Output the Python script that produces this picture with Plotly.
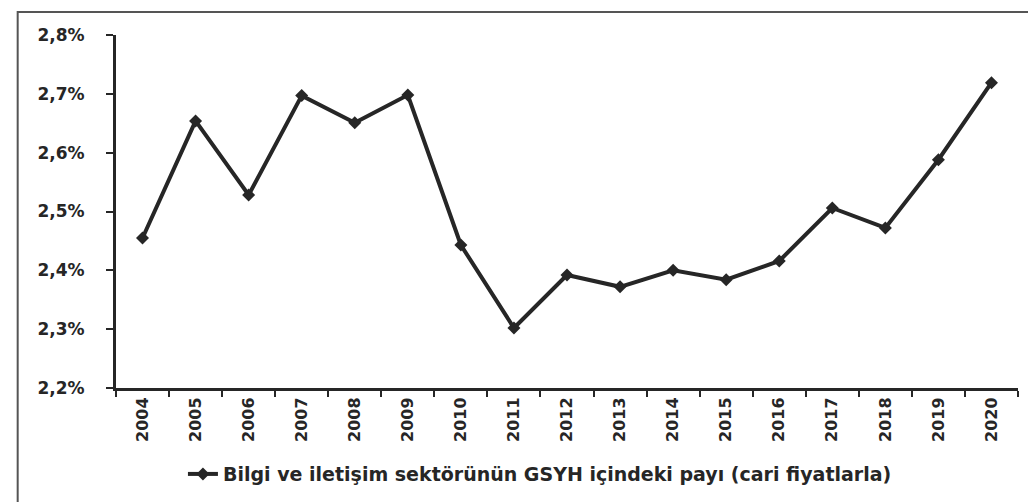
import plotly.graph_objects as go

years = [str(y) for y in range(2004, 2021)]
share = [2.455, 2.654, 2.528, 2.697, 2.651, 2.698, 2.443, 2.302, 2.392,
         2.372, 2.400, 2.384, 2.416, 2.506, 2.472, 2.588, 2.719]
series_name = "Bilgi ve iletişim sektörünün GSYH içindeki payı (cari fiyatlarla)"
y_ticks = [2.2, 2.3, 2.4, 2.5, 2.6, 2.7, 2.8]
y_tick_labels = ["2,2%", "2,3%", "2,4%", "2,5%", "2,6%", "2,7%", "2,8%"]

font_family = "DejaVu Sans"
ink = "#262626"
fig = go.Figure()
fig.add_trace(go.Scatter(
    x=years, y=share, mode="lines+markers", name=series_name,
    line=dict(color=ink, width=4),
    marker=dict(color=ink, size=10, symbol="diamond"),
))

fig.update_layout(
    width=1036, height=502,
    margin=dict(l=108, r=26, t=27, b=122),
    paper_bgcolor="white", plot_bgcolor="white",
    showlegend=True,
    legend=dict(orientation="h", x=0.47, xanchor="center", y=-0.19, yanchor="top",
                font=dict(family=font_family, size=19, color=ink, weight="bold")),
    font=dict(family=font_family, color=ink),
)
fig.update_xaxes(
    type="category", range=[-0.5, 16.5], tickson="boundaries",
    showline=True, linecolor=ink, linewidth=3,
    ticks="outside", ticklen=6, tickcolor=ink, tickwidth=2,
    tickangle=-90, showgrid=False,
    tickfont=dict(family=font_family, size=16, color=ink, weight="bold"),
)
fig.update_yaxes(
    range=[2.2, 2.8], tickvals=y_ticks, ticktext=y_tick_labels,
    showline=True, linecolor=ink, linewidth=3,
    ticks="outside", ticklen=7, tickcolor=ink, tickwidth=2,
    ticklabelstandoff=18,
    showgrid=False, zeroline=False,
    tickfont=dict(family=font_family, size=17, color=ink, weight="bold"),
)
fig.add_shape(type="rect", xref="paper", yref="paper",
              x0=-0.109, x1=1.022, y0=-0.334, y1=1.065,
              line=dict(color="#555555", width=2), layer="below")

fig.write_html("out.html")
